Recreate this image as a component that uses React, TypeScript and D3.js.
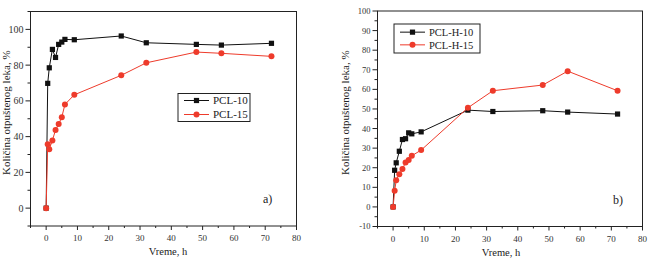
import React, { useEffect, useRef } from "react";
import * as d3 from "d3";

// release time points, h
const times = [0, 0.5, 1, 2, 3, 4, 5, 6, 9, 24, 32, 48, 56, 72];

// panel a)
const pcl10 = [0, 69.8, 78.5, 88.8, 84.3, 91.6, 92.9, 94.4, 94.2, 96.3, 92.5, 91.6, 91.2, 92.2];
const pcl15 = [0, 35.8, 33.0, 37.9, 43.7, 47.0, 50.9, 58.0, 63.4, 74.3, 81.3, 87.3, 86.6, 84.9];

// panel b)
const pclH10 = [0, 18.7, 22.5, 28.4, 34.4, 34.8, 37.8, 37.3, 38.3, 49.4, 48.7, 49.1, 48.4, 47.4];
const pclH15 = [0, 8.2, 13.6, 16.7, 19.3, 22.7, 23.9, 26.1, 29.0, 50.6, 59.3, 62.2, 69.3, 59.3];

const xTicks = [0, 10, 20, 30, 40, 50, 60, 70, 80];
const yTicksA = [0, 20, 40, 60, 80, 100];
const yTicksB = [-10, 0, 10, 20, 30, 40, 50, 60, 70, 80, 90, 100];

const yTitle = "Količina otpuštenog leka, %";
const xTitle = "Vreme, h";

const RED = "#ee3b2b";
const FONT = "Liberation Serif, DejaVu Serif, Times New Roman, serif";

type Series = { name: string; values: number[]; color: string; shape: "square" | "circle" };

type PanelProps = {
  series: Series[];
  yDomain: [number, number];
  yTicks: number[];
  yMinorStep: number;
  frame: { left: number; top: number; right: number; bottom: number };
  yTickFont: number;
  yTitleX: number;
  xTitleX: number;
  legend: { x: number; y: number; w: number; h: number; font: number; row: number };
  tag: { text: string; x: number; y: number };
};

const Panel = ({ series, yDomain, yTicks, yMinorStep, frame, yTickFont, yTitleX, xTitleX, legend, tag }: PanelProps) => {
  const ref = useRef<SVGGElement>(null);

  useEffect(() => {
    const g = d3.select(ref.current);
    g.selectAll("*").remove();

    const x = d3.scaleLinear().domain([-5, 80]).range([frame.left, frame.right]);
    const y = d3.scaleLinear().domain(yDomain).range([frame.bottom, frame.top]);

    // frame
    g.append("rect")
      .attr("x", frame.left)
      .attr("y", frame.top)
      .attr("width", frame.right - frame.left)
      .attr("height", frame.bottom - frame.top)
      .attr("fill", "none")
      .attr("stroke", "#222")
      .attr("stroke-width", 1);

    // x axis: major and minor ticks
    const xMinor = d3.range(-5, 81, 5).filter((v) => !xTicks.includes(v));
    const xa = g.append("g").attr("transform", `translate(0,${frame.bottom})`);
    xa.selectAll(".maj")
      .data(xTicks)
      .join("line")
      .attr("x1", (d) => x(d))
      .attr("x2", (d) => x(d))
      .attr("y1", 0)
      .attr("y2", 4)
      .attr("stroke", "#222");
    xa.selectAll(".min")
      .data(xMinor)
      .join("line")
      .attr("x1", (d) => x(d))
      .attr("x2", (d) => x(d))
      .attr("y1", 0)
      .attr("y2", 2)
      .attr("stroke", "#222");
    xa.selectAll("text")
      .data(xTicks)
      .join("text")
      .attr("x", (d) => x(d))
      .attr("y", 15)
      .attr("text-anchor", "middle")
      .attr("font-family", FONT)
      .attr("font-size", 9)
      .attr("fill", "#333")
      .text((d) => d);

    // y axis
    const yMinor = d3
      .range(yDomain[0], yDomain[1] + 0.01, yMinorStep)
      .filter((v) => !yTicks.includes(v));
    const ya = g.append("g").attr("transform", `translate(${frame.left},0)`);
    ya.selectAll(".maj")
      .data(yTicks)
      .join("line")
      .attr("x1", -5)
      .attr("x2", 0)
      .attr("y1", (d) => y(d))
      .attr("y2", (d) => y(d))
      .attr("stroke", "#222");
    ya.selectAll(".min")
      .data(yMinor)
      .join("line")
      .attr("x1", -3)
      .attr("x2", 0)
      .attr("y1", (d) => y(d))
      .attr("y2", (d) => y(d))
      .attr("stroke", "#222");
    ya.selectAll("text")
      .data(yTicks)
      .join("text")
      .attr("x", -7)
      .attr("y", (d) => y(d))
      .attr("dy", "0.35em")
      .attr("text-anchor", "end")
      .attr("font-family", FONT)
      .attr("font-size", yTickFont)
      .attr("fill", "#333")
      .text((d) => d);

    // axis titles
    g.append("text")
      .attr("x", xTitleX)
      .attr("y", frame.bottom + 29)
      .attr("text-anchor", "middle")
      .attr("font-family", FONT)
      .attr("font-size", 10.5)
      .attr("fill", "#222")
      .text(xTitle);
    g.append("text")
      .attr("transform", `translate(${yTitleX},${(frame.top + frame.bottom) / 2 - 6}) rotate(-90)`)
      .attr("text-anchor", "middle")
      .attr("font-family", FONT)
      .attr("font-size", 11)
      .attr("fill", "#222")
      .text(yTitle);

    const drawMarker = (sel: any, s: Series, cx: number, cy: number) => {
      if (s.shape === "square") {
        sel.append("rect")
          .attr("x", cx - 2.6)
          .attr("y", cy - 2.6)
          .attr("width", 5.2)
          .attr("height", 5.2)
          .attr("fill", s.color);
      } else {
        sel.append("circle").attr("cx", cx).attr("cy", cy).attr("r", 3).attr("fill", s.color);
      }
    };

    // series lines and markers
    series.forEach((s) => {
      const pts = times.map((t, i) => [t, s.values[i]] as [number, number]);
      const line = d3
        .line<[number, number]>()
        .x((d) => x(d[0]))
        .y((d) => y(d[1]));
      g.append("path")
        .datum(pts)
        .attr("d", line)
        .attr("fill", "none")
        .attr("stroke", s.color)
        .attr("stroke-width", 1);
      const mg = g.append("g");
      pts.forEach((p) => drawMarker(mg, s, x(p[0]), y(p[1])));
    });

    // legend
    const lg = g.append("g").attr("transform", `translate(${legend.x},${legend.y})`);
    lg.append("rect")
      .attr("width", legend.w)
      .attr("height", legend.h)
      .attr("fill", "#fff")
      .attr("stroke", "#222");
    series.forEach((s, i) => {
      const cy = legend.h / 2 + (i - 0.5) * legend.row;
      lg.append("line")
        .attr("x1", 6)
        .attr("x2", 31)
        .attr("y1", cy)
        .attr("y2", cy)
        .attr("stroke", s.color);
      drawMarker(lg, s, 18.5, cy);
      lg.append("text")
        .attr("x", 35)
        .attr("y", cy)
        .attr("dy", "0.35em")
        .attr("font-family", FONT)
        .attr("font-size", legend.font)
        .attr("fill", "#222")
        .text(s.name);
    });

    g.append("text")
      .attr("x", tag.x)
      .attr("y", tag.y)
      .attr("font-family", FONT)
      .attr("font-size", 12)
      .attr("fill", "#222")
      .text(tag.text);
  }, [series, yDomain, yTicks, yMinorStep, frame, yTickFont, yTitleX, xTitleX, legend, tag]);

  return <g ref={ref} />;
};

const App = () => {
  return (
    <svg width={651} height={259} style={{ position: "absolute", left: 0, top: 0, background: "#fff" }}>
      <Panel
        series={[
          { name: "PCL-10", values: pcl10, color: "#111", shape: "square" },
          { name: "PCL-15", values: pcl15, color: RED, shape: "circle" },
        ]}
        yDomain={[-10, 110]}
        yTicks={yTicksA}
        yMinorStep={10}
        frame={{ left: 30.5, top: 11.5, right: 296.5, bottom: 226 }}
        yTickFont={10}
        yTitleX={10}
        xTitleX={168}
        legend={{ x: 178, y: 93.5, w: 72, h: 28, font: 11, row: 14 }}
        tag={{ text: "a)", x: 263, y: 203 }}
      />
      <Panel
        series={[
          { name: "PCL-H-10", values: pclH10, color: "#111", shape: "square" },
          { name: "PCL-H-15", values: pclH15, color: RED, shape: "circle" },
        ]}
        yDomain={[-10, 100]}
        yTicks={yTicksB}
        yMinorStep={5}
        frame={{ left: 377.5, top: 11, right: 642.5, bottom: 226.5 }}
        yTickFont={8.5}
        yTitleX={349}
        xTitleX={501}
        legend={{ x: 394, y: 24, w: 86, h: 29, font: 10.5, row: 12.7 }}
        tag={{ text: "b)", x: 613, y: 204 }}
      />
    </svg>
  );
};

export default App;
